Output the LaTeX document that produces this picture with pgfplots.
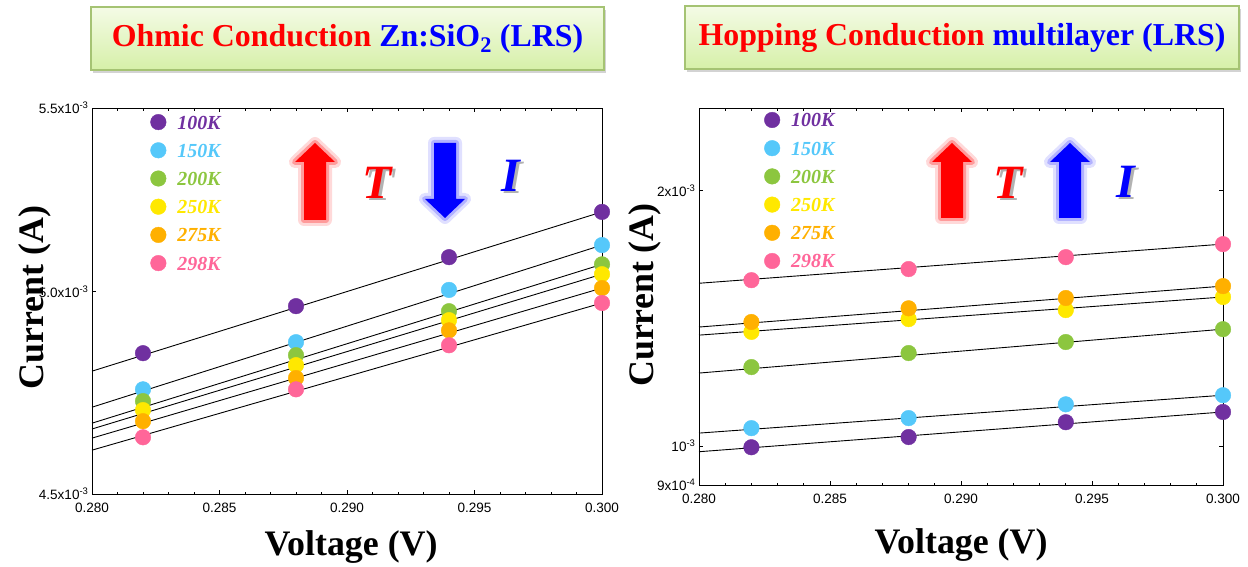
\documentclass[border=0pt]{standalone}
\usepackage{pgfplots}
\pgfplotsset{compat=1.18}
\usepackage{fontspec}
\setmainfont{Liberation Serif}
\newfontfamily\arial{Liberation Sans}
\usetikzlibrary{shadows}
\definecolor{c100}{HTML}{7030A0}
\definecolor{c150}{HTML}{55C8FA}
\definecolor{c200}{HTML}{8CC63F}
\definecolor{c250}{HTML}{FFE800}
\definecolor{c275}{HTML}{FFB000}
\definecolor{c298}{HTML}{FF6699}
\definecolor{boxtop}{RGB}{244,251,230}
\definecolor{boxbot}{RGB}{214,240,168}
\definecolor{boxdraw}{RGB}{165,195,115}
\definecolor{tred}{HTML}{FF0000}
\definecolor{tblue}{HTML}{0000FF}

\pgfplotsset{
  fitline/.style={black, line width=0.9bp, forget plot, mark=none},
  pts/.style={only marks, mark=*, mark size=7.8bp, mark options={fill=#1, draw=#1}},
  myax/.style={
    scale only axis, clip=false,
    xmin=0.28, xmax=0.30,
    xtick={0.28,0.285,0.29,0.295,0.30},
    minor x tick num=4,
    tick align=inside,
    major tick length=4bp, minor tick length=2.5bp,
    tick style={black, line width=0.7bp},
    axis line style={black, line width=0.9bp},
    tick label style={font=\arial\fontsize{13.6}{15}\selectfont},
    xticklabel style={yshift=-5bp},
    label style={font=\fontsize{36}{40}\selectfont\bfseries},
    legend cell align=left,
    legend style={draw=none, fill=none, anchor=north west,
      font=\fontsize{20}{22}\selectfont\bfseries\itshape,
      row sep=12.2bp, inner sep=0pt,
      nodes={inner sep=1bp, text height=14bp, text depth=0pt}},
    legend image code/.code={\path[draw=none,fill=none] (0bp,0bp) -- (26bp,0bp); \draw[mark repeat=2,mark phase=2,##1,draw=none] plot coordinates {(0bp,0bp) (8bp,0bp) (16bp,0bp)};},
  }
}

\newcommand{\shadowed}[2]{\rlap{\hspace{3bp}\raisebox{-2.5bp}{\textcolor{gray!60}{#2}}}\textcolor{#1}{#2}}

\begin{document}
\begin{tikzpicture}[x=1bp,y=1bp]
\path[use as bounding box] (0,0) rectangle (1248,567);

% ---------- title boxes ----------
\node[draw=boxdraw, line width=1.2bp, top color=boxtop, bottom color=boxbot,
  drop shadow={opacity=0.35, shadow xshift=2bp, shadow yshift=-3bp},
  minimum width=513bp, minimum height=63bp, inner sep=0pt,
  font=\fontsize{32}{36}\selectfont\bfseries] at (347.5,528.5)
  {\textcolor{tred}{Ohmic Conduction} \textcolor{tblue}{Zn:SiO\textsubscript{2} (LRS)}};
\node[draw=boxdraw, line width=1.2bp, top color=boxtop, bottom color=boxbot,
  drop shadow={opacity=0.35, shadow xshift=2bp, shadow yshift=-3bp},
  minimum width=554bp, minimum height=63bp, inner sep=0pt,
  font=\fontsize{32}{36}\selectfont\bfseries] at (962,529.5)
  {\textcolor{tred}{Hopping Conduction} \textcolor{tblue}{multilayer (LRS)}};

% ---------- left panel ----------
\begin{axis}[ymode=log, myax,
  at={(92bp,73bp)}, anchor=south west,
  width=510bp, height=386bp,
  ymin=4.5e-3, ymax=5.5e-3,
  xticklabels={0.280,0.285,0.290,0.295,0.300},
  ytick={4.5e-3,5e-3,5.5e-3}, minor ytick={},
  yticklabels={4.5x10\textsuperscript{-3},5.0x10\textsuperscript{-3},5.5x10\textsuperscript{-3}},
  xlabel={Voltage (V)}, ylabel={Current (A)},
  xlabel style={at={(axis description cs:0.508,-0.137)}, anchor=center},
  ylabel style={at={(axis description cs:-0.112,0.51)}, anchor=center},
  legend style={at={(axis description cs:0.114,0.985)}},
]
\addplot[fitline] coordinates {(0.28,4.797e-3) (0.30,5.211e-3)};
\addplot[fitline] coordinates {(0.28,4.708e-3) (0.30,5.122e-3)};
\addplot[fitline] coordinates {(0.28,4.669e-3) (0.30,5.071e-3)};
\addplot[fitline] coordinates {(0.28,4.655e-3) (0.30,5.045e-3)};
\addplot[fitline] coordinates {(0.28,4.633e-3) (0.30,5.009e-3)};
\addplot[fitline] coordinates {(0.28,4.604e-3) (0.30,4.970e-3)};
\addplot[pts=c100] coordinates {(0.282,4.842e-3) (0.288,4.962e-3) (0.294,5.090e-3) (0.300,5.211e-3)};
\addlegendentry{\textcolor{c100}{100K}}
\addplot[pts=c150] coordinates {(0.282,4.752e-3) (0.288,4.870e-3) (0.294,5.004e-3) (0.300,5.122e-3)};
\addlegendentry{\textcolor{c150}{150K}}
\addplot[pts=c200] coordinates {(0.282,4.723e-3) (0.288,4.837e-3) (0.294,4.949e-3) (0.300,5.071e-3)};
\addlegendentry{\textcolor{c200}{200K}}
\addplot[pts=c250] coordinates {(0.282,4.701e-3) (0.288,4.812e-3) (0.294,4.926e-3) (0.300,5.045e-3)};
\addlegendentry{\textcolor{c250}{250K}}
\addplot[pts=c275] coordinates {(0.282,4.674e-3) (0.288,4.780e-3) (0.294,4.900e-3) (0.300,5.009e-3)};
\addlegendentry{\textcolor{c275}{275K}}
\addplot[pts=c298] coordinates {(0.282,4.635e-3) (0.288,4.752e-3) (0.294,4.862e-3) (0.300,4.970e-3)};
\addlegendentry{\textcolor{c298}{298K}}
\end{axis}

% ---------- right panel ----------
\begin{axis}[ymode=log, myax,
  at={(699bp,82bp)}, anchor=south west,
  width=524bp, height=377bp,
  ymin=9e-4, ymax=2.5e-3,
  xticklabels={0.280,0.285,0.290,0.295,0.300},
  ytick={9e-4,1e-3,2e-3}, minor ytick={},
  yticklabels={9x10\textsuperscript{-4},10\textsuperscript{-3},2x10\textsuperscript{-3}},
  xlabel={Voltage (V)}, ylabel={Current (A)},
  xlabel style={at={(axis description cs:0.5,-0.159)}, anchor=center},
  ylabel style={at={(axis description cs:-0.103,0.504)}, anchor=center},
  legend style={at={(axis description cs:0.124,0.99)}},
]
\addplot[fitline] coordinates {(0.28,0.985e-3) (0.30,1.097e-3)};
\addplot[fitline] coordinates {(0.28,1.036e-3) (0.30,1.148e-3)};
\addplot[fitline] coordinates {(0.28,1.219e-3) (0.30,1.373e-3)};
\addplot[fitline] coordinates {(0.28,1.351e-3) (0.30,1.498e-3)};
\addplot[fitline] coordinates {(0.28,1.381e-3) (0.30,1.543e-3)};
\addplot[fitline] coordinates {(0.28,1.555e-3) (0.30,1.729e-3)};
\addplot[pts=c100] coordinates {(0.282,0.997e-3) (0.288,1.025e-3) (0.294,1.067e-3) (0.300,1.097e-3)};
\addlegendentry{\textcolor{c100}{100K}}
\addplot[pts=c150] coordinates {(0.282,1.050e-3) (0.288,1.079e-3) (0.294,1.120e-3) (0.300,1.148e-3)};
\addlegendentry{\textcolor{c150}{150K}}
\addplot[pts=c200] coordinates {(0.282,1.239e-3) (0.288,1.287e-3) (0.294,1.326e-3) (0.300,1.373e-3)};
\addlegendentry{\textcolor{c200}{200K}}
\addplot[pts=c250] coordinates {(0.282,1.363e-3) (0.288,1.411e-3) (0.294,1.446e-3) (0.300,1.498e-3)};
\addlegendentry{\textcolor{c250}{250K}}
\addplot[pts=c275] coordinates {(0.282,1.400e-3) (0.288,1.453e-3) (0.294,1.494e-3) (0.300,1.543e-3)};
\addlegendentry{\textcolor{c275}{275K}}
\addplot[pts=c298] coordinates {(0.282,1.568e-3) (0.288,1.616e-3) (0.294,1.669e-3) (0.300,1.729e-3)};
\addlegendentry{\textcolor{c298}{298K}}
\end{axis}

% ---------- arrows and symbols ----------
\def\uparr#1#2#3{(#1-11,#3) -- (#1-11,#2-19) -- (#1-20,#2-19) -- (#1,#2) -- (#1+20,#2-19) -- (#1+11,#2-19) -- (#1+11,#3) -- cycle}
\def\dnarr#1#2#3{(#1-11,#2) -- (#1-11,#3+19) -- (#1-20,#3+19) -- (#1,#3) -- (#1+20,#3+19) -- (#1+11,#3+19) -- (#1+11,#2) -- cycle}
% left
\draw[red!25, line width=12bp, line join=round, opacity=0.6] \uparr{315}{424}{347};
\draw[red!45, line width=6bp, line join=round, opacity=0.8] \uparr{315}{424}{347};
\fill[tred] \uparr{315}{424}{347};
\draw[blue!20, line width=12bp, line join=round, opacity=0.6] \dnarr{445}{424}{349};
\draw[blue!35, line width=6bp, line join=round, opacity=0.8] \dnarr{445}{424}{349};
\fill[tblue] \dnarr{445}{424}{349};
% right
\draw[red!25, line width=12bp, line join=round, opacity=0.6] \uparr{952}{424}{349};
\draw[red!45, line width=6bp, line join=round, opacity=0.8] \uparr{952}{424}{349};
\fill[tred] \uparr{952}{424}{349};
\draw[blue!20, line width=12bp, line join=round, opacity=0.6] \uparr{1070}{424}{349};
\draw[blue!35, line width=6bp, line join=round, opacity=0.8] \uparr{1070}{424}{349};
\fill[tblue] \uparr{1070}{424}{349};

\tikzset{sym/.style={font=\fontsize{48}{50}\selectfont\bfseries\itshape, inner sep=0pt}}
\node[sym] at (377,383) {\shadowed{tred}{T}};
\node[sym] at (511,390) {\shadowed{tblue}{I}};
\node[sym] at (1008,383) {\shadowed{tred}{T}};
\node[sym] at (1126,384) {\shadowed{tblue}{I}};
\end{tikzpicture}
\end{document}
